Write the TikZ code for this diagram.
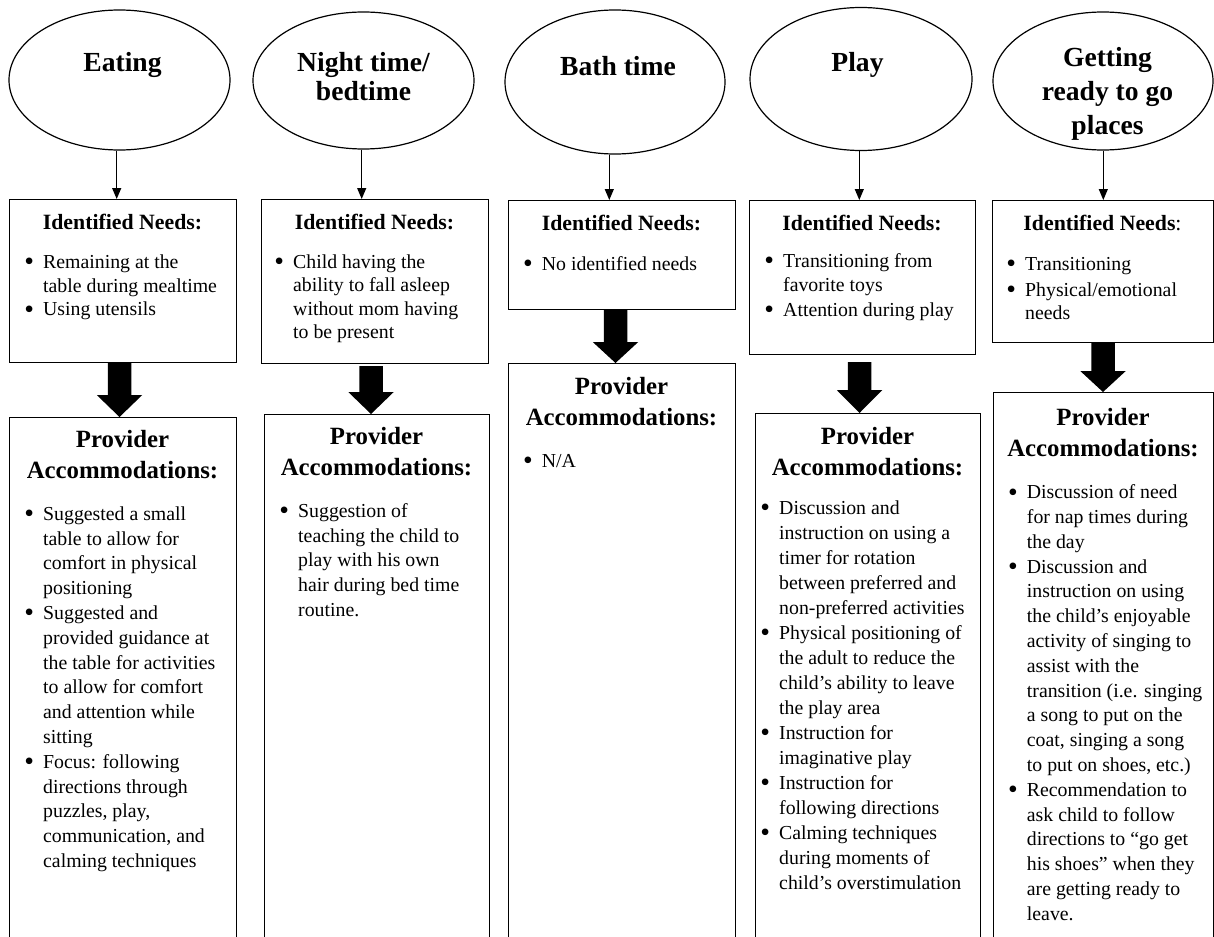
\documentclass[tikz,border=0pt]{standalone}
\usepackage{graphicx}
\usepackage{fontspec}
\setmainfont{Liberation Serif}
\usetikzlibrary{shapes.geometric,arrows.meta,calc}

% bullet hung to the left of the text start
\newcommand\bitem{\llap{\raisebox{-2.3pt}{\scalebox{1.4}{•}}\hspace{9.2pt}}}
% invisible strut fixing the height of a node's first line
\newcommand\firstline[1]{\rule{0pt}{#1}}
% broad filled down-arrow: #1 start (top of shaft), #2 point whose y is the tip, #3 head length
\newcommand\fatarrow[3]{%
  \fill let \p1=#1, \p2=#2 in
    (\x1-11.75pt,\y1) -- (\x1+11.75pt,\y1) -- (\x1+11.75pt,\y2+#3)
    -- (\x1+22.75pt,\y2+#3) -- (\x1,\y2) -- (\x1-22.75pt,\y2+#3)
    -- (\x1-11.75pt,\y2+#3) -- cycle;}

\tikzset{
  frame/.style={draw, line width=1.2pt, inner sep=0pt, anchor=north west},
  bubble/.style={draw, ellipse, line width=1.2pt, inner sep=0pt},
  bubbletitle/.style={font=\bfseries\fontsize{27.6}{33}\selectfont, inner sep=0pt, align=center},
  needstitle/.style={font=\bfseries\fontsize{21.8}{26}\selectfont, inner sep=0pt, anchor=base},
  provtitle/.style={font=\bfseries\fontsize{24.8}{31}\selectfont, inner sep=0pt, align=center, anchor=north},
  body/.style={font=\fontsize{19.8}{24.8}\selectfont, inner sep=0pt, align=left, anchor=north west},
  link/.style={line width=1.2pt, -{Triangle[length=11pt,width=9pt]}},
}

\begin{document}
\begin{tikzpicture}[x=1pt, y=-1pt]
\useasboundingbox (0,0) rectangle (1214,936);
\clip (0,0) rectangle (1214,936);

% arrow axes of each column
\coordinate (eatA) at (116.7,0);   \coordinate (eatB) at (119.5,0);
\coordinate (nightA) at (361.7,0); \coordinate (nightB) at (371,0);
\coordinate (bathA) at (609.3,0);  \coordinate (bathB) at (615.5,0);
\coordinate (playA) at (859.3,0);  \coordinate (playB) at (859.5,0);
\coordinate (goA) at (1103.3,0);   \coordinate (goB) at (1103,0);

% ---------------- Eating ----------------
\node[bubble, minimum width=221pt, minimum height=140pt] (eatE) at (119.5,80) {};
\node[bubbletitle, anchor=base] (eatT) at (122.5,72) {Eating};
\node[frame, minimum width=227pt, minimum height=163pt] (eatN) at (9,199) {};
\node[needstitle] (eatNT) at (122.5,229) {Identified Needs:};
\node[body, font=\fontsize{19.8}{23.8}\selectfont] (eatNL) at (43,252)
  {\firstline{16pt}\bitem Remaining at the\\ table during mealtime\\ \bitem Using utensils};
\node[frame, minimum width=227pt, minimum height=600pt] (eatP) at (9,417) {};
\node[provtitle] (eatPT) at (122.5,427) {\firstline{20pt}Provider\\ Accommodations:};
\node[body] (eatPL) at (43,504)
  {\firstline{16pt}\bitem Suggested a small\\ table to allow for\\ comfort in physical\\ positioning\\
   \bitem Suggested and\\ provided guidance at\\ the table for activities\\ to allow for comfort\\
   and attention while\\ sitting\\
   \bitem Focus: following\\ directions through\\ puzzles, play,\\ communication, and\\ calming techniques};
\draw[link] (eatE.south -| eatA) -- (eatN.north -| eatA);
\fatarrow{(eatN.south -| eatB)}{(eatP.north)}{22pt}

% ---------------- Night time / bedtime ----------------
\node[bubble, minimum width=221pt, minimum height=137pt] (nightE) at (363.5,80.5) {};
\node[bubbletitle, anchor=north, font=\bfseries\fontsize{27.6}{28.3}\selectfont] (nightT) at (363.5,49.7)
  {\firstline{22pt}Night time/\\ bedtime};
\node[frame, minimum width=227pt, minimum height=164pt] (nightN) at (261,199) {};
\node[needstitle] (nightNT) at (374.5,229) {Identified Needs:};
\node[body, font=\fontsize{19.8}{23.5}\selectfont] (nightNL) at (293,252)
  {\firstline{16pt}\bitem Child having the\\ ability to fall asleep\\ without mom having\\ to be present};
\node[frame, minimum width=225pt, minimum height=600pt] (nightP) at (264,414) {};
\node[provtitle] (nightPT) at (376.5,424) {\firstline{20pt}Provider\\ Accommodations:};
\node[body] (nightPL) at (298,501)
  {\firstline{16pt}\bitem Suggestion of\\ teaching the child to\\ play with his own\\ hair during bed time\\ routine.};
\draw[link] (nightE.south -| nightA) -- (nightN.north -| nightA);
\fatarrow{($(nightN.south -| nightB)+(0,2)$)}{(nightP.north)}{22pt}

% ---------------- Bath time ----------------
\node[bubble, minimum width=220pt, minimum height=144pt] (bathE) at (615,82) {};
\node[bubbletitle, anchor=base] (bathT) at (618,76) {Bath time};
\node[frame, minimum width=227pt, minimum height=109pt] (bathN) at (508,200) {};
\node[needstitle] (bathNT) at (621.5,230) {Identified Needs:};
\node[body] (bathNL) at (541.7,254) {\firstline{16pt}\bitem No identified needs};
\node[frame, minimum width=227pt, minimum height=600pt] (bathP) at (508,363) {};
\node[provtitle] (bathPT) at (621.5,374) {\firstline{20pt}Provider\\ Accommodations:};
\node[body] (bathPL) at (541.7,451) {\firstline{16pt}\bitem N/A};
\draw[link] (bathE.south -| bathA) -- (bathN.north -| bathA);
\fatarrow{(bathN.south -| bathB)}{(bathP.north)}{21pt}

% ---------------- Play ----------------
\node[bubble, minimum width=222pt, minimum height=143pt] (playE) at (861,79) {};
\node[bubbletitle, anchor=base] (playT) at (857.5,72) {Play};
\node[frame, minimum width=226pt, minimum height=154pt] (playN) at (749,200) {};
\node[needstitle] (playNT) at (862,230) {Identified Needs:};
\node[body, font=\fontsize{19.8}{24.5}\selectfont] (playNL) at (783,251)
  {\firstline{16pt}\bitem Transitioning from\\ favorite toys\\ \bitem Attention during play};
\node[frame, minimum width=225pt, minimum height=600pt] (playP) at (755,413) {};
\node[provtitle] (playPT) at (867.5,424) {\firstline{20pt}Provider\\ Accommodations:};
\node[body, font=\fontsize{19.8}{25}\selectfont] (playPL) at (779,498)
  {\firstline{16pt}\bitem Discussion and\\ instruction on using a\\ timer for rotation\\ between preferred and\\
   non-preferred activities\\
   \bitem Physical positioning of\\ the adult to reduce the\\ child’s ability to leave\\ the play area\\
   \bitem Instruction for\\ imaginative play\\
   \bitem Instruction for\\ following directions\\
   \bitem Calming techniques\\ during moments of\\ child’s overstimulation};
\draw[link] (playE.south -| playA) -- (playN.north -| playA);
\fatarrow{($(playN.south -| playB)+(0,7)$)}{(playP.north)}{23pt}

% ---------------- Getting ready to go places ----------------
\node[bubble, minimum width=220pt, minimum height=138pt] (goE) at (1103,81) {};
\node[bubbletitle, anchor=north, font=\bfseries\fontsize{27.6}{34}\selectfont] (goT) at (1107.5,44.7)
  {\firstline{22pt}Getting\\ ready to go\\ places};
\node[frame, minimum width=220.5pt, minimum height=142pt] (goN) at (992,200) {};
\node[needstitle] (goNT) at (1102.5,230) {Identified Needs\mdseries:};
\node[body, font=\fontsize{19.8}{23.2}\selectfont] (goNL) at (1025,254)
  {\firstline{16pt}\bitem Transitioning\\[2.8pt] \bitem Physical/emotional\\ needs};
\node[frame, minimum width=219.5pt, minimum height=600pt] (goP) at (993,392) {};
\node[provtitle] (goPT) at (1103,405) {\firstline{20pt}Provider\\ Accommodations:};
\node[body] (goPL) at (1026.7,482.5)
  {\firstline{16pt}\bitem Discussion of need\\ for nap times during\\ the day\\
   \bitem Discussion and\\ instruction on using\\ the child’s enjoyable\\ activity of singing to\\
   assist with the\\ transition (i.e. singing\\ a song to put on the\\ coat, singing a song\\
   to put on shoes, etc.)\\
   \bitem Recommendation to\\ ask child to follow\\ directions to “go get\\ his shoes” when they\\
   are getting ready to\\ leave.};
\draw[link] (goE.south -| goA) -- (goN.north -| goA);
\fatarrow{(goN.south -| goB)}{(goP.north)}{21pt}
\end{tikzpicture}
\end{document}
